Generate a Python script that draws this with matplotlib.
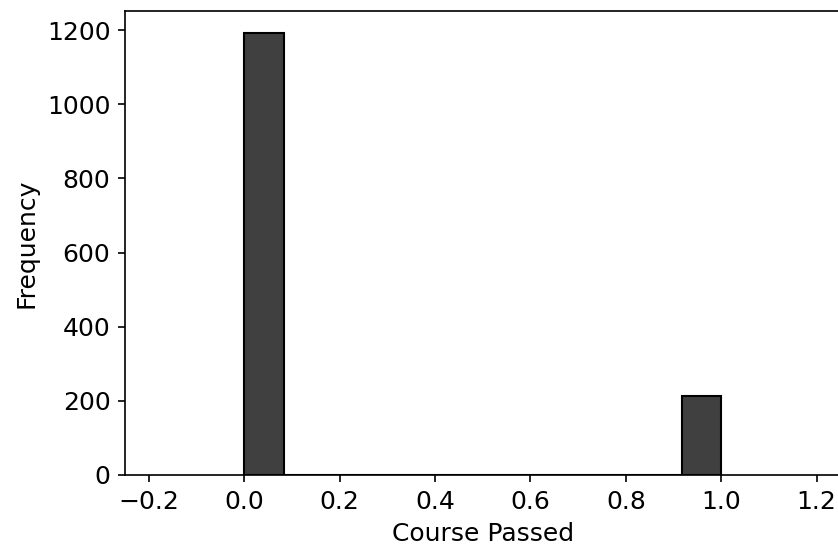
import matplotlib
matplotlib.use('Agg')
import matplotlib.pyplot as plt

# passed flag (0 = no, 1 = yes) and how many students in each
passed = [0, 1]
counts = [1192, 214]

plt.rcParams['font.size'] = 12

fig = plt.figure(figsize=(838 / 150, 550 / 150), dpi=150)
ax = fig.add_axes([125 / 838, 75 / 550, 1.0 - 125 / 838 + 0.003, 464 / 550])
ax.hist(passed, bins=12, range=(0, 1), weights=counts,
        color='#404040', edgecolor='black')
ax.set_xlim(-0.25, 1.25)
ax.set_xlabel('Course Passed')
ax.set_ylabel('Frequency')
fig.savefig('out.png', dpi=150)
